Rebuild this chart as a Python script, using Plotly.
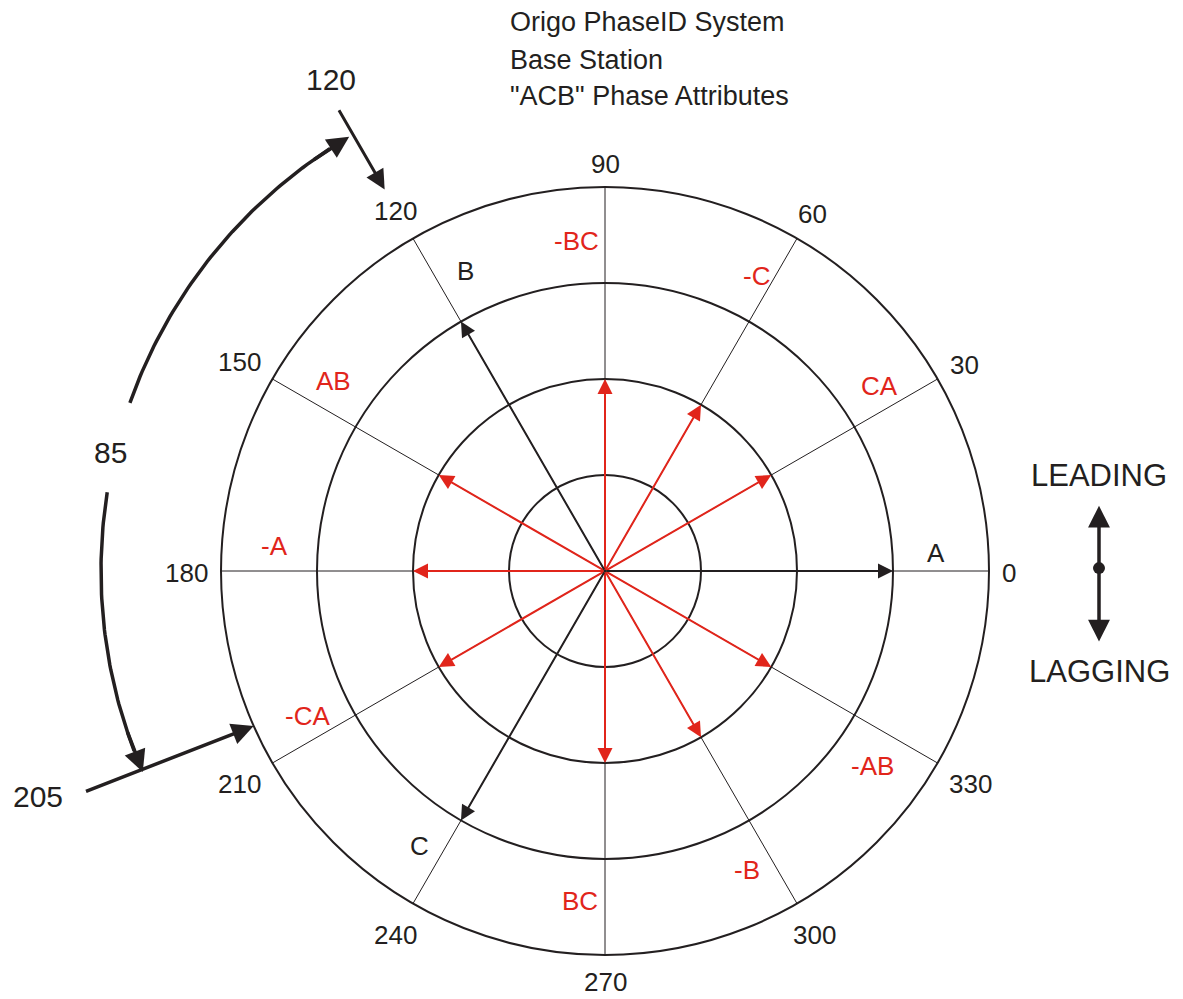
import numpy as np
import plotly.graph_objects as go

# ---------------- data ----------------
title_lines = ['Origo PhaseID System', 'Base Station', '"ACB" Phase Attributes']
ring_radii = [1, 2, 3, 4]
spoke_angles = [0, 30, 60, 90, 120, 150, 180, 210, 240, 270, 300, 330]
spoke_labels = ['0', '30', '60', '90', '120', '150', '180', '210', '240', '270', '300', '330']
phase_names = ['A', 'B', 'C']
phase_angles = [0, 120, 240]
phase_magnitudes = [3, 3, 3]
attr_names = ['CA', '-C', '-BC', 'AB', '-A', '-CA', 'BC', '-B', '-AB']
attr_angles = [30, 60, 90, 150, 180, 210, 270, 300, 330]
attr_magnitudes = [2, 2, 2, 2, 2, 2, 2, 2, 2]
span_start, span_end, span_width = 120, 205, 85
direction_labels = ['LEADING', 'LAGGING']

# ---------------- style / layout ----------------
BLACK = '#231f20'
RED = '#e1251b'
FONT = 'Liberation Sans, Arial, sans-serif'
PX = 96.0                     # pixels per ring unit
CX, CY = 605.0, 571.0         # page-pixel position of the centre
OFF = 8                       # page body margin
W, H = 1175, 991
phase_label_offsets = [3.2, -5.0, -4.0]
attr_label_offsets = [4.0, 2.8, 5.0, -5.0, -4.3, -4.0, -4.3, -4.6, -6.0]
label_radius = 3.45
LABEL_SIZE = 26


def pol(r, deg):
    t = np.deg2rad(deg)
    return r * np.cos(t), r * np.sin(t)


fig = go.Figure()
shapes = []
annotations = []

# rings
for r in ring_radii:
    shapes.append(dict(type='circle', xref='x', yref='y', x0=-r, y0=-r, x1=r, y1=r,
                       line=dict(color=BLACK, width=2)))

# spokes
sx, sy = [], []
for a in spoke_angles:
    x, y = pol(ring_radii[-1], a)
    sx += [0, x, None]
    sy += [0, y, None]
fig.add_trace(go.Scatter(x=sx, y=sy, mode='lines', line=dict(color=BLACK, width=1),
                         hoverinfo='skip'))

# spoke (angle) labels outside the outer ring
for a, lab in zip(spoke_angles, spoke_labels):
    w = 0.556 * LABEL_SIZE * len(lab)
    t = np.deg2rad(a)
    d = ring_radii[-1] + (13 + w / 2 * abs(np.cos(t)) + 12 * abs(np.sin(t))) / PX
    x, y = pol(d, a)
    annotations.append(dict(x=x, y=y, xref='x', yref='y', text=lab, showarrow=False,
                            font=dict(family=FONT, size=LABEL_SIZE, color=BLACK),
                            xanchor='center', yanchor='middle', yshift=-2))


def arrow(x, y, ax, ay, color, width, size, head=2, side='end'):
    return dict(x=x, y=y, ax=ax, ay=ay, xref='x', yref='y', axref='x', ayref='y',
                text='', showarrow=True, arrowhead=head, startarrowhead=head,
                arrowside=side, arrowwidth=width, arrowsize=size, arrowcolor=color,
                startarrowsize=size)


# red attribute arrows
for name, a, m, off in zip(attr_names, attr_angles, attr_magnitudes, attr_label_offsets):
    x, y = pol(m, a)
    annotations.append(arrow(x, y, 0, 0, RED, 2, 1.5))
    lx, ly = pol(label_radius, a + off)
    annotations.append(dict(x=lx, y=ly, xref='x', yref='y', text=name, showarrow=False,
                            font=dict(family=FONT, size=LABEL_SIZE, color=RED),
                            xanchor='center', yanchor='middle'))

# black phase arrows
for name, a, m, off in zip(phase_names, phase_angles, phase_magnitudes, phase_label_offsets):
    x, y = pol(m, a)
    annotations.append(arrow(x, y, 0, 0, BLACK, 2, 1.5))
    lx, ly = pol(label_radius, a + off)
    annotations.append(dict(x=lx, y=ly, xref='x', yref='y', text=name, showarrow=False,
                            font=dict(family=FONT, size=LABEL_SIZE, color=BLACK),
                            xanchor='center', yanchor='middle'))

# span arcs (120 -> 205, "85")
arc_r = 5.25
gap_lo, gap_hi = 160.5, 171.0
tip1, tip2 = span_start + 0.5, span_end - 1.5
th1 = np.linspace(gap_lo, tip1 + 2.6, 60)
th2 = np.linspace(gap_hi, tip2 - 2.6, 60)
for th in (th1, th2):
    ax_, ay_ = pol(arc_r, th)
    fig.add_trace(go.Scatter(x=ax_, y=ay_, mode='lines', line=dict(color=BLACK, width=3.5),
                             hoverinfo='skip'))
x, y = pol(arc_r, tip1)
x0, y0 = pol(arc_r, tip1 + 5)
annotations.append(arrow(x, y, x0, y0, BLACK, 3.5, 1.25))
x, y = pol(arc_r, tip2)
x0, y0 = pol(arc_r, tip2 - 5)
annotations.append(arrow(x, y, x0, y0, BLACK, 3.5, 1.25))
lx, ly = pol(5.3, 166.5)
annotations.append(dict(x=lx, y=ly, xref='x', yref='y', text=str(span_width), showarrow=False,
                        font=dict(family=FONT, size=30, color=BLACK),
                        xanchor='center', yanchor='middle'))

# 120 marker
x, y = pol(4.59, span_start)
x0, y0 = pol(5.56, span_start)
annotations.append(arrow(x, y, x0, y0, BLACK, 3, 1.3))
lx, ly = pol(5.86, 119.2)
annotations.append(dict(x=lx, y=ly, xref='x', yref='y', text=str(span_start), showarrow=False,
                        font=dict(family=FONT, size=30, color=BLACK),
                        xanchor='center', yanchor='middle'))

# 205 marker
x, y = pol(4.0, 203.8)
x0, y0 = pol(5.89, 203.0)
annotations.append(arrow(x, y, x0, y0, BLACK, 3.5, 1.25))
lx, ly = pol(6.36, 201.7)
annotations.append(dict(x=lx, y=ly, xref='x', yref='y', text=str(span_end), showarrow=False,
                        font=dict(family=FONT, size=30, color=BLACK),
                        xanchor='center', yanchor='middle'))

# LEADING / LAGGING indicator
ind_x = (1099 - CX) / PX
annotations.append(arrow(ind_x, 0.68, ind_x, -0.75, BLACK, 3.5, 1.25, side='end+start'))
fig.add_trace(go.Scatter(x=[ind_x], y=[0.03], mode='markers',
                         marker=dict(color=BLACK, size=12), hoverinfo='skip'))
annotations.append(dict(x=ind_x, y=1.0, xref='x', yref='y', text=direction_labels[0],
                        showarrow=False, font=dict(family=FONT, size=31, color=BLACK),
                        xanchor='center', yanchor='middle'))
annotations.append(dict(x=ind_x, y=-1.05, xref='x', yref='y', text=direction_labels[1],
                        showarrow=False, font=dict(family=FONT, size=31, color=BLACK),
                        xanchor='center', yanchor='middle'))

# title lines
for line, py in zip(title_lines, [22, 60, 96]):
    annotations.append(dict(x=(508 - CX) / PX, y=(CY - py) / PX, xref='x', yref='y', text=line,
                            showarrow=False, font=dict(family=FONT, size=27, color=BLACK),
                            xanchor='left', yanchor='middle'))

fig.update_layout(
    width=W, height=H, autosize=False,
    margin=dict(l=0, r=0, t=0, b=0, pad=0),
    xaxis=dict(range=[(OFF - CX) / PX, (OFF + W - CX) / PX], visible=False, fixedrange=True),
    yaxis=dict(range=[-(OFF + H - CY) / PX, (CY - OFF) / PX], visible=False, fixedrange=True),
    showlegend=False, plot_bgcolor='white', paper_bgcolor='white',
    shapes=shapes, annotations=annotations,
)

fig.write_html('out.html', config={'displayModeBar': False})
